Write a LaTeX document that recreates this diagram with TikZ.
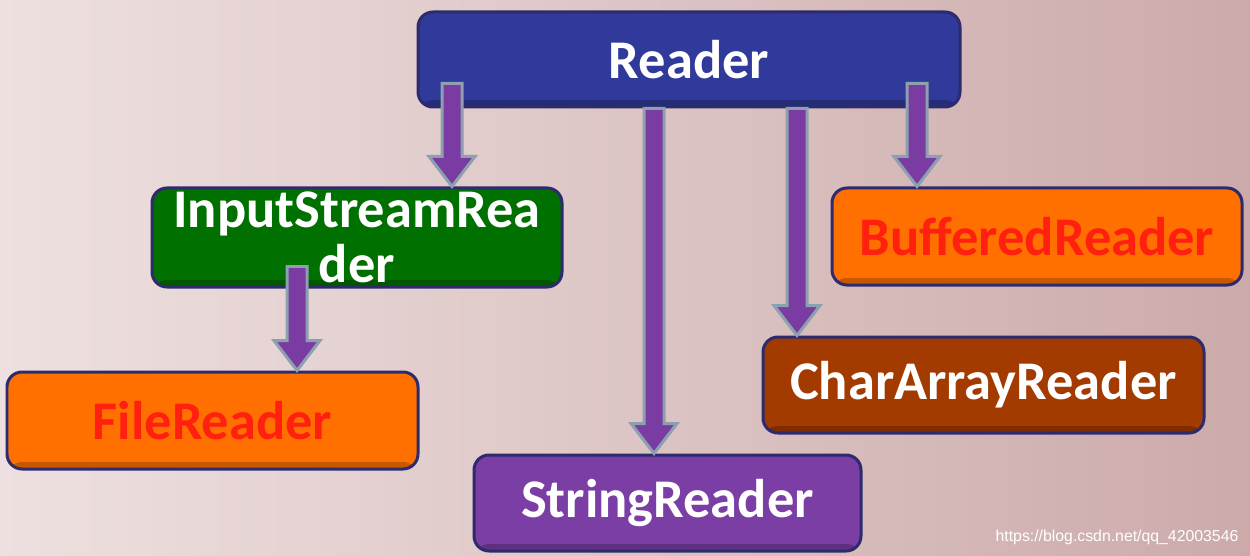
\documentclass[tikz,border=0pt]{standalone}
\usepackage{fontspec}
\setmainfont{Carlito}
\newfontfamily\urlfont{Liberation Sans}
\usetikzlibrary{calc, positioning}
\definecolor{bgleft}{RGB}{238,224,224}
\definecolor{bgright}{RGB}{204,170,170}
\definecolor{rim}{RGB}{45,42,110}
\definecolor{readerblue}{RGB}{48,58,155}
\definecolor{isrgreen}{RGB}{0,112,0}
\definecolor{fileorange}{RGB}{255,112,0}
\definecolor{charbrown}{RGB}{163,58,0}
\definecolor{stringpurple}{RGB}{122,62,165}
\definecolor{textred}{RGB}{255,32,16}
\definecolor{arrowpurple}{RGB}{122,60,162}
\definecolor{arrowrim}{RGB}{140,160,175}
\tikzset{class/.style={draw=rim, line width=0.06cm, rounded corners=0.3cm,
                       text=white, align=center, inner sep=0pt,
                       font=\bfseries\fontsize{31}{31}\selectfont,
                       path picture={\fill[black, opacity=0.22]
                         ([yshift=0.14cm]path picture bounding box.south west)
                         rectangle (path picture bounding box.south east);}},
         link/.style={fill=arrowpurple, draw=arrowrim, line width=0.06cm,
                      to path={let \p1=(\tikztostart), \p2=(\tikztotarget) in
                        (\x1-0.2cm,\y1) -- (\x1-0.2cm,\y2+0.6cm)
                        -- (\x1-0.46cm,\y2+0.6cm) -- (\x2,\y2)
                        -- (\x1+0.46cm,\y2+0.6cm) -- (\x1+0.2cm,\y2+0.6cm)
                        -- (\x1+0.2cm,\y1) -- cycle}}}

\begin{document}
\begin{tikzpicture}
  \shade[left color=bgleft, right color=bgright] (0,0) rectangle (25,-11.12);
  \useasboundingbox (0,0) rectangle (25,-11.12);
  \node[class, fill=readerblue, minimum width=10.84cm, minimum height=1.9cm] (reader) at (13.78,-1.19) {Reader};
  \node[class, fill=isrgreen, minimum width=8.2cm, minimum height=1.98cm] (isr) at (7.14,-4.75) {InputStreamRea\\der};
  \node[class, fill=fileorange, text=textred, minimum width=8.22cm, minimum height=1.94cm] (file) at (4.25,-8.41) {FileReader};
  \node[class, fill=stringpurple, minimum width=7.74cm, minimum height=1.92cm] (string) at (13.35,-10.06) {StringReader};
  \node[class, fill=charbrown, minimum width=8.82cm, minimum height=1.92cm] (chararray) at (19.67,-7.7) {CharArrayReader};
  \node[class, fill=fileorange, text=textred, minimum width=8.2cm, minimum height=1.94cm] (buffered) at (20.74,-4.73) {BufferedReader};
  \node[text=white, font=\urlfont\fontsize{9}{10}\selectfont] (url) at (22.34,-10.74) {https://blog.csdn.net/qq\_42003546};
  \coordinate (a1) at ([xshift=-4.74cm]reader.south);
  \coordinate (a2) at ([xshift=-0.7cm]reader.south);
  \coordinate (a3) at ([xshift=2.16cm]reader.south);
  \coordinate (a4) at ([xshift=4.56cm]reader.south);
  \coordinate (a5) at ([xshift=-1.2cm]isr.south);
  \draw[link] ([yshift=0.5cm]a1) to (a1 |- isr.north);
  \draw[link] (a2) to (a2 |- string.north);
  \draw[link] (a3) to (a3 |- chararray.north);
  \draw[link] ([yshift=0.5cm]a4) to (a4 |- buffered.north);
  \draw[link] ([yshift=0.44cm]a5) to (a5 |- file.north);
\end{tikzpicture}
\end{document}
